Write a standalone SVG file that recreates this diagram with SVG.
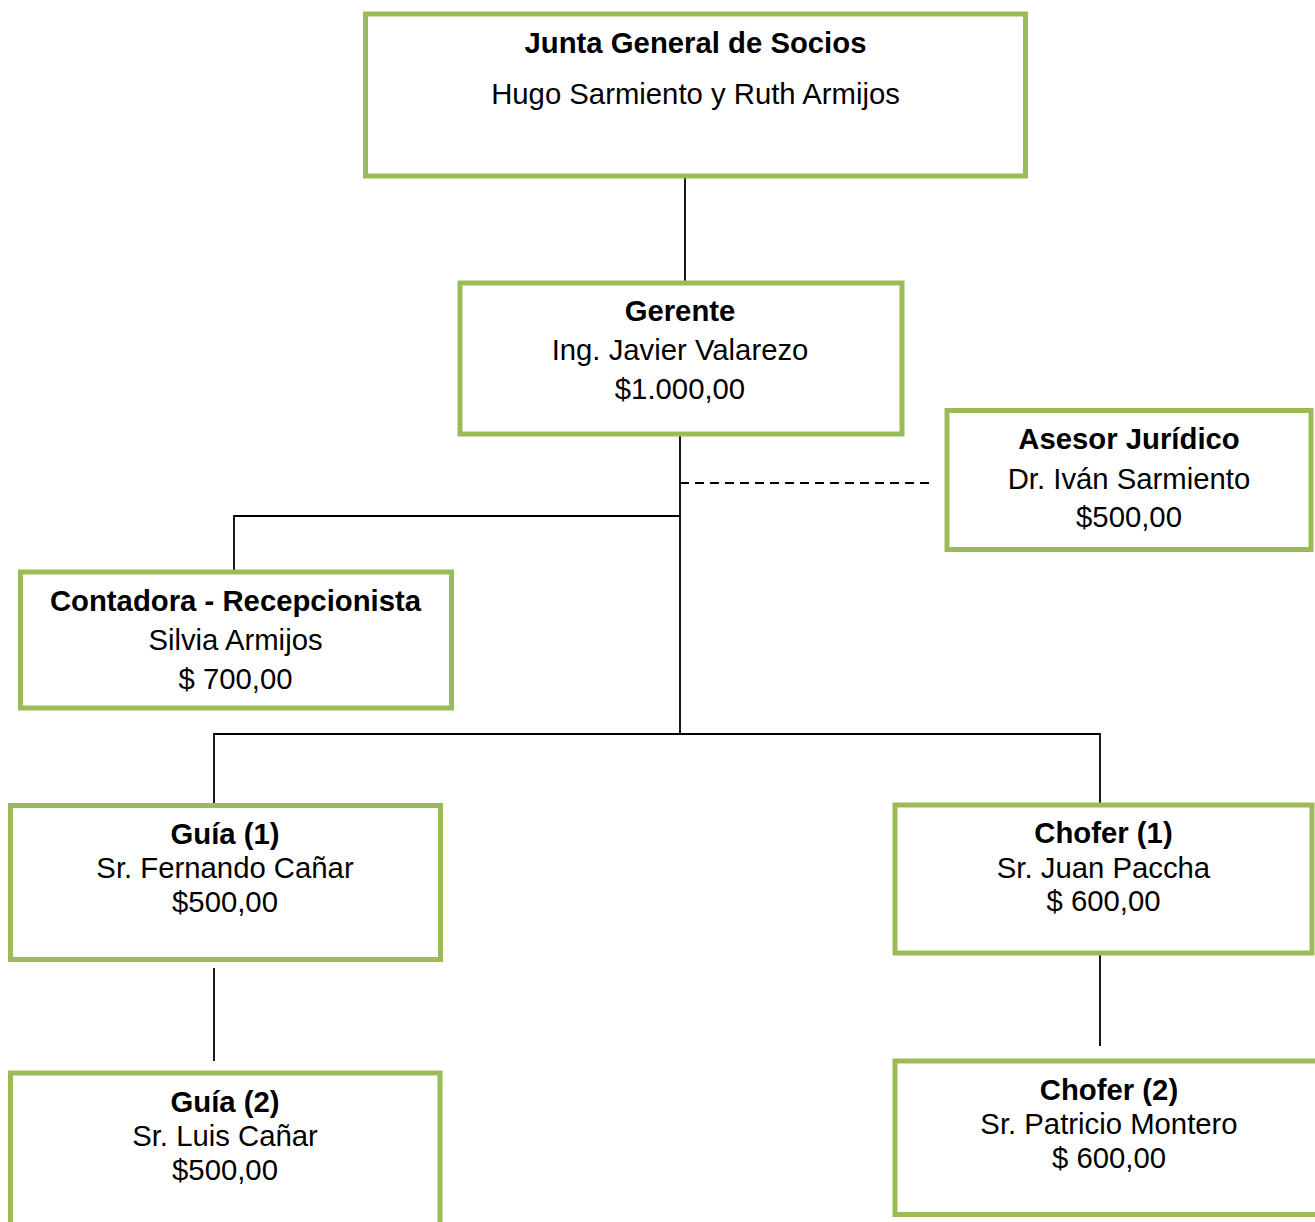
<svg xmlns="http://www.w3.org/2000/svg" width="1315" height="1222" viewBox="0 0 1315 1222">
  <style>
    .box { fill: #ffffff; stroke: #9bbb59; stroke-width: 5; }
    .t { font-family: "Liberation Sans", Arial, sans-serif; font-size: 29.3px; fill: #000000; text-anchor: middle; }
    .b { font-weight: bold; }
    .ln { stroke: #000000; stroke-width: 1.8; fill: none; }
    .dash { stroke-dasharray: 9 6; }
  </style>
  <rect width="1315" height="1222" fill="#ffffff"/>

  <!-- connectors -->
  <g id="connectors">
    <line class="ln" x1="685" y1="176" x2="685" y2="283"/>
    <line class="ln" x1="680" y1="434" x2="680" y2="734"/>
    <line class="ln dash" x1="680" y1="483" x2="930" y2="483"/>
    <polyline class="ln" points="680,516 234,516 234,572"/>
    <polyline class="ln" points="214,805 214,734 1100,734 1100,805"/>
    <line class="ln" x1="214" y1="968" x2="214" y2="1061"/>
    <line class="ln" x1="1100" y1="953" x2="1100" y2="1046"/>
  </g>

  <g id="junta">
    <rect class="box" x="365.5" y="14" width="660" height="162"/>
    <text class="t b" x="695.5" y="53">Junta General de Socios</text>
    <text class="t" x="695.5" y="104">Hugo Sarmiento y Ruth Armijos</text>
  </g>

  <g id="gerente">
    <rect class="box" x="460" y="283" width="442" height="151"/>
    <text class="t b" x="680" y="321">Gerente</text>
    <text class="t" x="680" y="360">Ing. Javier Valarezo</text>
    <text class="t" x="680" y="399">$1.000,00</text>
  </g>

  <g id="asesor">
    <rect class="box" x="947" y="410.5" width="364" height="139"/>
    <text class="t b" x="1129" y="449">Asesor Jurídico</text>
    <text class="t" x="1129" y="489">Dr. Iván Sarmiento</text>
    <text class="t" x="1129" y="527">$500,00</text>
  </g>

  <g id="contadora">
    <rect class="box" x="20.5" y="572" width="431" height="136"/>
    <text class="t b" x="235.5" y="611">Contadora - Recepcionista</text>
    <text class="t" x="235.5" y="650">Silvia Armijos</text>
    <text class="t" x="235.5" y="689">$ 700,00</text>
  </g>

  <g id="guia1">
    <rect class="box" x="10.5" y="805.5" width="430" height="154"/>
    <text class="t b" x="225" y="844">Guía (1)</text>
    <text class="t" x="225" y="878">Sr. Fernando Cañar</text>
    <text class="t" x="225" y="912">$500,00</text>
  </g>

  <g id="chofer1">
    <rect class="box" x="895" y="805" width="417" height="148"/>
    <text class="t b" x="1103.5" y="843">Chofer (1)</text>
    <text class="t" x="1103.5" y="878">Sr. Juan Paccha</text>
    <text class="t" x="1103.5" y="911">$ 600,00</text>
  </g>

  <g id="guia2">
    <rect class="box" x="10.5" y="1073" width="429.5" height="170"/>
    <text class="t b" x="225" y="1112">Guía (2)</text>
    <text class="t" x="225" y="1146">Sr. Luis Cañar</text>
    <text class="t" x="225" y="1180">$500,00</text>
  </g>

  <g id="chofer2">
    <rect class="box" x="895" y="1061" width="425" height="153.5"/>
    <text class="t b" x="1109" y="1100">Chofer (2)</text>
    <text class="t" x="1109" y="1134">Sr. Patricio Montero</text>
    <text class="t" x="1109" y="1168">$ 600,00</text>
  </g>
</svg>
